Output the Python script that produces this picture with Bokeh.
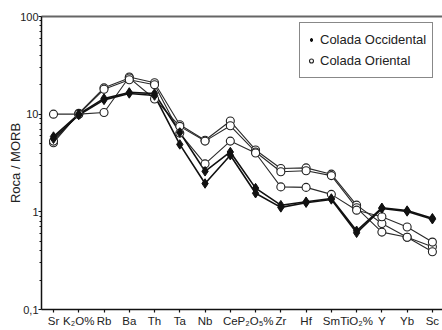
from bokeh.plotting import figure
from bokeh.models import (Range1d, FixedTicker, LinearAxis, Legend, LegendItem)
from bokeh.embed import file_html
from bokeh.resources import INLINE

# ---- data -------------------------------------------------------------
categories = ["Sr", "K₂O%", "Rb", "Ba", "Th", "Ta", "Nb", "Ce", "P₂O₅%",
              "Zr", "Hf", "Sm", "TiO₂%", "Y", "Yb", "Sc"]

occidental_1 = [5.9, 10.0, 14.5, 16.7, 16.3, 6.5, 2.6, 4.1, 1.75, 1.17, 1.27, 1.37, 0.64, 1.10, 1.03, 0.86]
occidental_2 = [5.6, 9.8, 14.0, 16.3, 15.5, 4.9, 1.95, 3.8, 1.55, 1.11, 1.24, 1.34, 0.61, 1.08, 1.01, 0.84]

oriental_1 = [10.0, 10.0, 10.4, 24.0, 21.0, 7.8, 5.4, 8.5, 4.3, 2.78, 2.82, 2.43, 1.17, 0.76, 0.55, 0.44]
oriental_2 = [5.1, 10.2, 18.6, 23.5, 14.3, 7.5, 5.3, 7.6, 4.1, 2.57, 2.63, 2.35, 1.10, 0.62, 0.55, 0.39]
oriental_3 = [5.3, 10.0, 18.0, 22.5, 20.0, 6.4, 3.1, 5.3, 4.0, 1.80, 1.78, 1.51, 1.04, 0.89, 0.70, 0.49]

y_ticks = [0.1, 1, 10, 100]
y_tick_labels = ["0,1", "1", "10", "100"]

series_names = ["Colada Occidental", "Colada Oriental"]

# ---- figure -----------------------------------------------------------
x = list(range(len(categories)))
FONT = "Liberation Sans"
TXT = "#222222"

p = figure(width=442, height=330, y_axis_type="log",
           x_range=Range1d(-0.475, 15.4), y_range=Range1d(0.1, 100),
           output_backend="svg", toolbar_location=None,
           min_border_left=41, min_border_right=0,
           min_border_top=16, min_border_bottom=21)
p.grid.visible = False
p.outline_line_color = None
p.background_fill_color = "white"
p.border_fill_color = "white"

# lines
for ys in (oriental_1, oriental_2, oriental_3):
    p.line(x, ys, line_color="#2a2a2a", line_width=1.1)
for ys in (occidental_1, occidental_2):
    p.line(x, ys, line_color="#111111", line_width=1.6)

# markers
circ = None
for ys in (oriental_1, oriental_2, oriental_3):
    circ = p.scatter(x, ys, marker="circle", size=8, line_color="#222222",
                     line_width=1.1, fill_color="white")
dia = None
for ys in (occidental_1, occidental_2):
    dia = p.scatter(x, ys, marker="diamond", size=9.5, line_color="#111111",
                    fill_color="#111111")

# axes
xa = p.xaxis[0]
xa.ticker = FixedTicker(ticks=x)
xa.major_label_overrides = {i: c for i, c in enumerate(categories)}
xa.major_label_text_font = FONT
xa.major_label_text_font_size = "11.5px"
xa.major_label_text_color = TXT
xa.major_label_standoff = 2
xa.major_tick_in = 0
xa.major_tick_out = 3
xa.minor_tick_line_color = None
xa.axis_line_color = "#111111"
xa.axis_line_width = 1.5
xa.major_tick_line_color = "#111111"
xa.major_tick_line_width = 1.2

minor = []
for d in (0.1, 1, 10):
    minor += [d * k for k in range(2, 10)]
ya = p.yaxis[0]
ya.ticker = FixedTicker(ticks=y_ticks, minor_ticks=minor)
ya.major_label_overrides = {t: l for t, l in zip(y_ticks, y_tick_labels)}
ya.major_label_text_font = FONT
ya.major_label_text_font_size = "11px"
ya.major_label_text_color = TXT
ya.major_label_standoff = 0
ya.major_tick_in = 0
ya.major_tick_out = 3
ya.minor_tick_in = 0
ya.minor_tick_out = 2
ya.axis_line_color = "#111111"
ya.axis_line_width = 1.5
ya.major_tick_line_color = "#111111"
ya.minor_tick_line_color = "#111111"
ya.axis_label = "Roca / MORB"
ya.axis_label_text_font = FONT
ya.axis_label_text_font_size = "13px"
ya.axis_label_text_font_style = "normal"
ya.axis_label_text_color = TXT
ya.axis_label_standoff = -6

top = LinearAxis(ticker=FixedTicker(ticks=[]),
                 major_tick_line_color=None, minor_tick_line_color=None,
                 axis_line_color="#666666", axis_line_width=2)
p.add_layout(top, "above")

legend = Legend(items=[LegendItem(label=series_names[0], renderers=[dia]),
                       LegendItem(label=series_names[1], renderers=[circ])],
                location=(258, 231))
legend.label_text_font = FONT
legend.label_text_font_size = "13px"
legend.label_text_color = TXT
legend.padding = 6
legend.margin = 0
legend.spacing = 0
legend.glyph_width = 10
legend.glyph_height = 21
legend.label_height = 21
legend.label_standoff = 4
legend.border_line_color = "#111111"
legend.border_line_width = 1.5
legend.background_fill_color = "white"
legend.background_fill_alpha = 1
p.add_layout(legend)

open("out.html", "w").write(file_html(p, INLINE))
